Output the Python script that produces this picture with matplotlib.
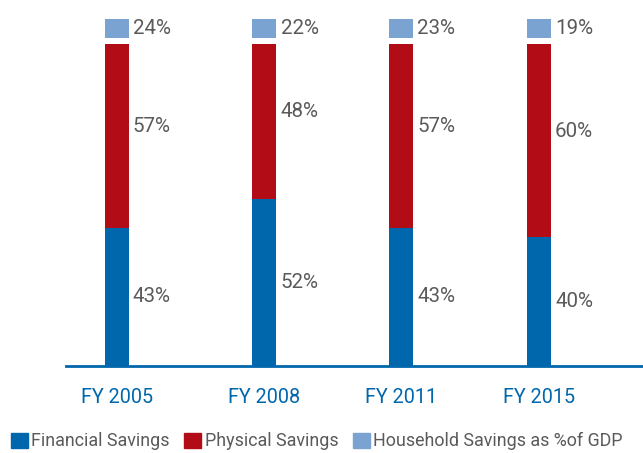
import matplotlib
matplotlib.use("Agg")
import matplotlib.pyplot as plt
from matplotlib.patches import Patch

categories = ["FY 2005", "FY 2008", "FY 2011", "FY 2015"]
financial = [43, 52, 43, 40]
physical = [57, 48, 57, 60]
household = [24, 22, 23, 19]

C_FIN = "#0067AC"
C_PHY = "#B20D17"
C_HH = "#7BA3D2"
C_TXT = "#5A5A5A"

plt.rcParams['font.family'] = ['Roboto', 'DejaVu Sans']

fig = plt.figure(figsize=(6.43, 4.53), dpi=100)
ax = fig.add_axes([66/643, 87/453, 1 - 66/643, 366/453])

x = [0, 1.05, 2.02, 3.0]
w = 0.17
ax.bar(x, financial, width=w, color=C_FIN)
ax.bar(x, physical, width=w, bottom=financial, color=C_PHY)
ax.bar(x, [5.9]*4, width=w, bottom=101.9, color=C_HH)

for xi, f, p, h in zip(x, financial, physical, household):
    ax.text(xi + w/2 + 0.03, f/2, f"{f}%", va="center", ha="left", fontsize=14.8, color=C_TXT)
    ax.text(xi + w/2 + 0.03, f + p/2 + 3, f"{p}%", va="center", ha="left", fontsize=14.8, color=C_TXT)
    ax.text(xi + w/2 + 0.03, 104.8, f"{h}%", va="center", ha="left", fontsize=14.8, color=C_TXT)

ax.set_xlim(-0.36, 3.74)
ax.set_ylim(0, 113.7)
for s in ["top", "right", "left"]:
    ax.spines[s].set_visible(False)
ax.spines["bottom"].set_color(C_FIN)
ax.spines["bottom"].set_linewidth(2)
ax.set_yticks([])
ax.set_xticks(x)
ax.set_xticklabels(categories, fontsize=14.2, color=C_FIN)
ax.tick_params(axis="x", length=0, pad=16)

handles = [Patch(color=C_FIN, label="Financial Savings"),
           Patch(color=C_PHY, label="Physical Savings"),
           Patch(color=C_HH, label="Household Savings as %of GDP")]
fig.legend(handles=handles, loc="lower left", bbox_to_anchor=(0.0, -0.018), ncol=3,
           frameon=False, fontsize=12.9, handlelength=0.95, handleheight=0.95,
           handletextpad=0.2, columnspacing=0.8, labelcolor=C_TXT, borderaxespad=0.2)

fig.savefig("out.png", dpi=100)
